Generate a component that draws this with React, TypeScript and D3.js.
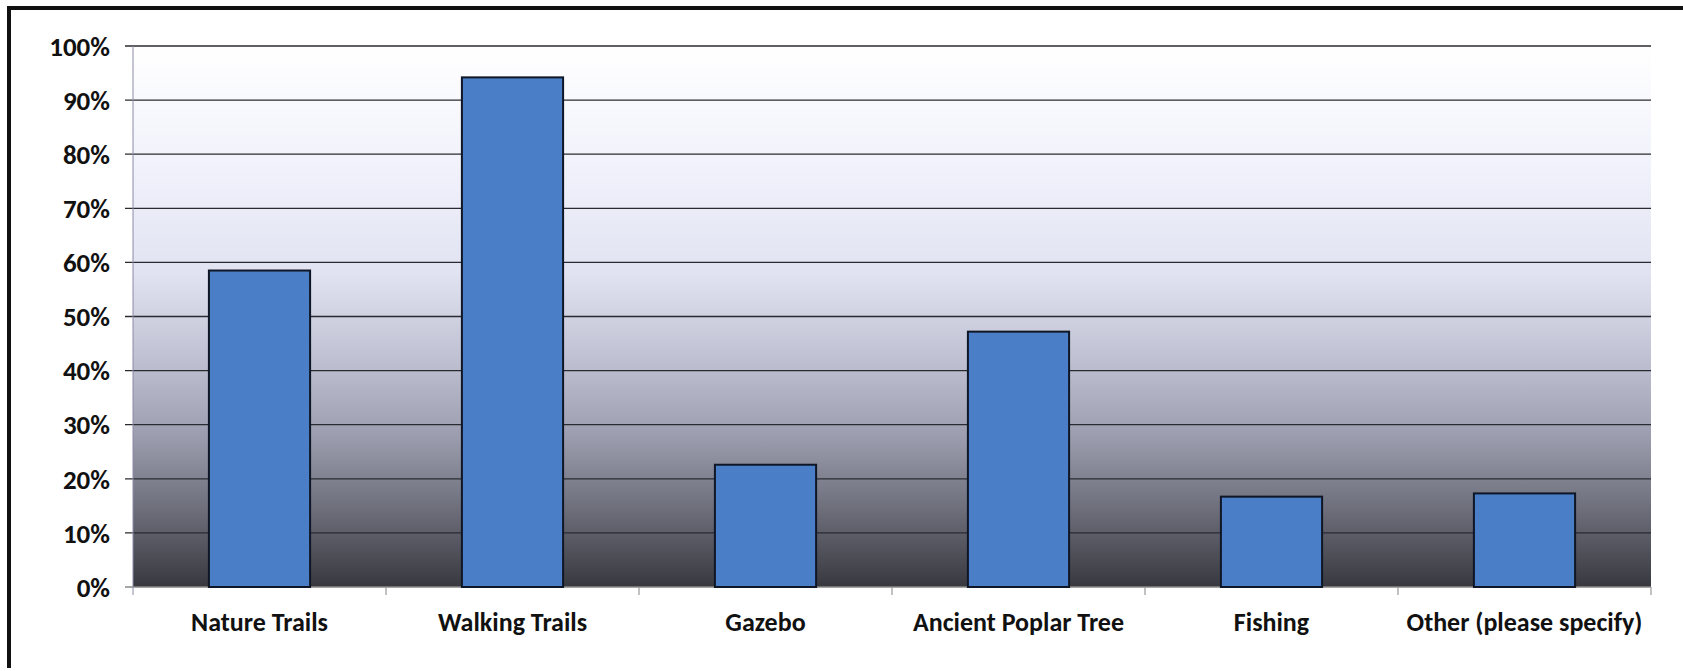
import React from "react";
import * as d3 from "d3";

const categories = ["Nature Trails", "Walking Trails", "Gazebo", "Ancient Poplar Tree", "Fishing", "Other (please specify)"];
const values = [0.585, 0.942, 0.226, 0.472, 0.167, 0.173];
const yTicks = [0, 0.1, 0.2, 0.3, 0.4, 0.5, 0.6, 0.7, 0.8, 0.9, 1.0];

const W = 1683, H = 671;
const M = { left: 133, right: 1651, top: 46, bottom: 587 };

export default function App() {
  const x = d3.scaleBand<string>().domain(categories).range([M.left, M.right]).paddingInner(0.6).paddingOuter(0.3);
  const xb = d3.scaleBand<string>().domain(categories).range([M.left, M.right]);
  const y = d3.scaleLinear().domain([0, 1]).range([M.bottom, M.top]);
  const fmt = d3.format(".0%");
  const font = "Carlito, Lato, 'Open Sans', sans-serif";
  return (
    <div style={{ position: "absolute", left: 0, top: 0 }}>
      <svg width={W} height={H} style={{ display: "block", background: "#fff" }}>
        <defs>
          <linearGradient id="bg" x1="0" y1="0" x2="0" y2="1">
            <stop offset="0" stopColor="#ffffff" />
            <stop offset="0.22" stopColor="#f1f2fb" />
            <stop offset="0.42" stopColor="#e1e3f2" />
            <stop offset="0.58" stopColor="#bfc1d2" />
            <stop offset="0.72" stopColor="#9c9eaf" />
            <stop offset="0.86" stopColor="#6c6d79" />
            <stop offset="1" stopColor="#38383f" />
          </linearGradient>
        </defs>
        <rect x={M.left} y={M.top} width={M.right - M.left} height={M.bottom - M.top} fill="url(#bg)" />
        {yTicks.map((t) => (
          <g key={t}>
            <line x1={M.left - 8} x2={M.right} y1={y(t)} y2={y(t)} stroke={t === 0 ? "#888" : "#2a2a30"} strokeWidth={1.3} />
            <text x={110} y={y(t)} dy="0.36em" textAnchor="end" fontFamily={font} fontWeight="bold" fontSize={27} fill="#111">
              {fmt(t)}
            </text>
          </g>
        ))}
        <line x1={M.left} x2={M.left} y1={M.top} y2={M.bottom + 8} stroke="#8a8aa8" strokeWidth={1} />
        {categories.map((c) => (
          <line key={"t" + c} x1={xb(c)! + xb.bandwidth()} x2={xb(c)! + xb.bandwidth()} y1={M.bottom} y2={M.bottom + 8} stroke="#999" strokeWidth={1.2} />
        ))}
        {categories.map((c, i) => (
          <rect key={c} x={x(c)} y={y(values[i])} width={x.bandwidth()} height={M.bottom - y(values[i])} fill="#4a7ec6" stroke="#0f1626" strokeWidth={2} />
        ))}
        {categories.map((c) => (
          <text key={"l" + c} x={xb(c)! + xb.bandwidth() / 2} y={631} textAnchor="middle" fontFamily={font} fontWeight="bold" fontSize={26} fill="#111">
            {c}
          </text>
        ))}
        <path d={`M${W + 5},8 H9 V${H - 3}`} fill="none" stroke="#111" strokeWidth={4} />
      </svg>
    </div>
  );
}
